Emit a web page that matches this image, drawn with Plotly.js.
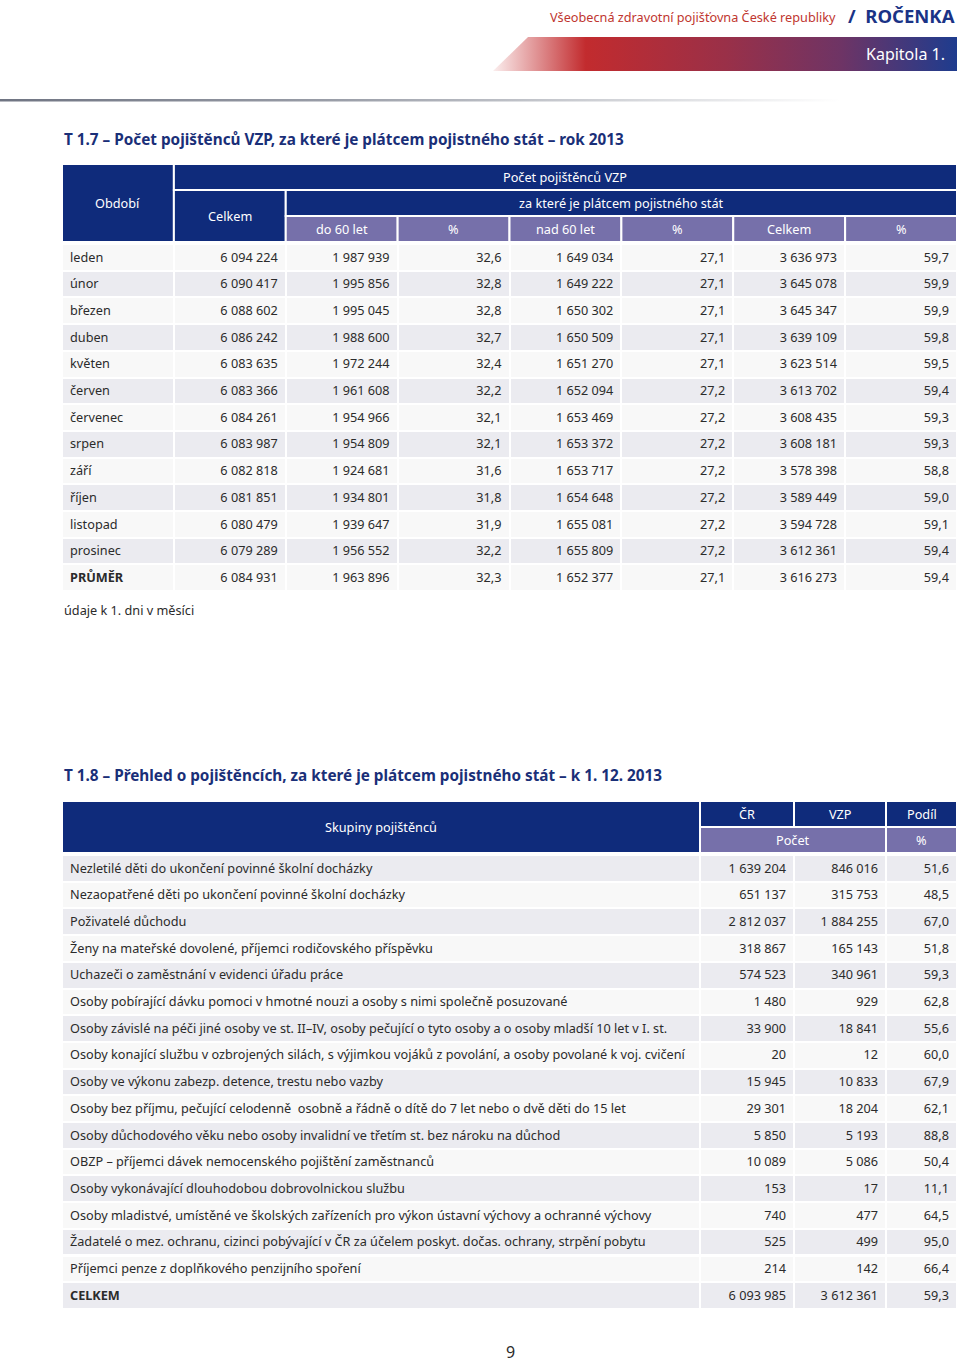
<!DOCTYPE html>
<html><head><meta charset="utf-8">
<script src="https://cdn.plot.ly/plotly-3.0.1.min.js"></script>
<style>html,body{margin:0;padding:0;background:#fff}#chart{width:960px;height:1364px}</style>
</head><body><div id="chart"></div>
<script>
// ---------- DATA: T 1.7 ----------
const months = ['leden','únor','březen','duben','květen','červen','červenec','srpen','září','říjen','listopad','prosinec','PRŮMĚR'];
const celkemVZP = [6094224,6090417,6088602,6086242,6083635,6083366,6084261,6083987,6082818,6081851,6080479,6079289,6084931];
const do60 = [1987939,1995856,1995045,1988600,1972244,1961608,1954966,1954809,1924681,1934801,1939647,1956552,1963896];
const do60Pct = [32.6,32.8,32.8,32.7,32.4,32.2,32.1,32.1,31.6,31.8,31.9,32.2,32.3];
const nad60 = [1649034,1649222,1650302,1650509,1651270,1652094,1653469,1653372,1653717,1654648,1655081,1655809,1652377];
const nad60Pct = [27.1,27.1,27.1,27.1,27.1,27.2,27.2,27.2,27.2,27.2,27.2,27.2,27.1];
const statCelkem = [3636973,3645078,3645347,3639109,3623514,3613702,3608435,3608181,3578398,3589449,3594728,3612361,3616273];
const statPct = [59.7,59.9,59.9,59.8,59.5,59.4,59.3,59.3,58.8,59.0,59.1,59.4,59.4];
const t1Sub = ['do 60 let','%','nad 60 let','%','Celkem','%'];

// ---------- DATA: T 1.8 ----------
const groups = [
 'Nezletilé děti do ukončení povinné školní docházky',
 'Nezaopatřené děti po ukončení povinné školní docházky',
 'Poživatelé důchodu',
 'Ženy na mateřské dovolené, příjemci rodičovského příspěvku',
 'Uchazeči o zaměstnání v evidenci úřadu práce',
 'Osoby pobírající dávku pomoci v hmotné nouzi a osoby s nimi společně posuzované',
 'Osoby závislé na péči jiné osoby ve st. II–IV, osoby pečující o tyto osoby a o osoby mladší 10 let v I. st.',
 'Osoby konající službu v ozbrojených silách, s výjimkou vojáků z povolání, a osoby povolané k voj. cvičení',
 'Osoby ve výkonu zabezp. detence, trestu nebo vazby',
 'Osoby bez příjmu, pečující celodenně  osobně a řádně o dítě do 7 let nebo o dvě děti do 15 let',
 'Osoby důchodového věku nebo osoby invalidní ve třetím st. bez nároku na důchod',
 'OBZP – příjemci dávek nemocenského pojištění zaměstnanců',
 'Osoby vykonávající dlouhodobou dobrovolnickou službu',
 'Osoby mladistvé, umístěné ve školských zařízeních pro výkon ústavní výchovy a ochranné výchovy',
 'Žadatelé o mez. ochranu, cizinci pobývající v ČR za účelem poskyt. dočas. ochrany, strpění pobytu',
 'Příjemci penze z doplňkového penzijního spoření',
 'CELKEM'
];
const pocetCR = [1639204,651137,2812037,318867,574523,1480,33900,20,15945,29301,5850,10089,153,740,525,214,6093985];
const pocetVZP = [846016,315753,1884255,165143,340961,929,18841,12,10833,18204,5193,5086,17,477,499,142,3612361];
const podil = [51.6,48.5,67.0,51.8,59.3,62.8,55.6,60.0,67.9,62.1,88.8,50.4,11.1,64.5,95.0,66.4,59.3];

// ---------- STYLE ----------
const W = 960, H = 1364;
const FONT = 'Noto Sans';
const FS = 12.7;
const TXT = '#2b2b2b';
const NAVY = '#0f2b7b', LAV = '#7670aa', ROW_A = '#f8f8f8', ROW_B = '#ebebf0';
const TITLE_C = '#1a2f78';
// HDR_EFF: space an empty table header actually takes above the first row
const L = 62, R = 957, ROWH = 26.7, HROW = 26, HDR_EFF = 14, SLACK = 40;
const CLEAR = 'rgba(0,0,0,0)';

const fmtInt = n => String(n).replace(/\B(?=(\d{3})+(?!\d))/g, '\u00a0');
const fmtPct = v => v.toFixed(1).replace('.', ',');

const shapes = [], annotations = [];
function rect(x0, x1, y0, y1, color) {
  shapes.push({type:'rect', xref:'x', yref:'y', x0, x1, y0, y1, fillcolor:color,
    line:{color:'white', width:2}, layer:'above'});
}
function label(x, y, text, o) {
  o = o || {};
  annotations.push({xref:'x', yref:'y', x, y, text, showarrow:false,
    xanchor:o.xanchor || 'center', yanchor:'middle',
    font:{family:FONT, size:o.size || FS, color:o.color || '#fff', weight:o.weight || 'normal'}});
}
function stripes(n, ncol, first, second) {
  const col = Array.from({length:n}, (_, i) => i % 2 === 0 ? first : second);
  return Array.from({length:ncol}, () => col.slice());
}
const blankHeader = {values:[], height:20, fill:{color:CLEAR}, line:{width:0, color:CLEAR}};

function makeTable(cols, widths, aligns, top, first, second) {
  const n = cols[0].length;
  const weights = cols.map((c, j) => j === 0 ? c.map((_, i) => i === n - 1 ? 'bold' : 'normal') : 'normal');
  return {
    type:'table',
    domain:{x:[L / W, R / W], y:[1 - (top + n * ROWH + SLACK) / H, 1 - (top - HDR_EFF) / H]},
    columnwidth:widths, header:blankHeader,
    cells:{values:cols, align:aligns, height:ROWH,
      fill:{color:stripes(n, cols.length, first, second)}, line:{color:'white', width:2},
      font:{family:FONT, size:FS, color:TXT, weight:weights}}
  };
}

// ---------- T 1.7 ----------
const c1 = 8, cw1 = (R - L) / c1;
const e1 = i => L + i * cw1;
const h1 = 164, body1 = h1 + 3 * HROW;
rect(e1(0), e1(1), h1, body1, NAVY);
label((e1(0) + e1(1)) / 2, (h1 + body1) / 2, 'Období');
rect(e1(1), e1(8), h1, h1 + HROW, NAVY);
label((e1(1) + e1(8)) / 2, h1 + HROW / 2, 'Počet pojištěnců VZP');
rect(e1(1), e1(2), h1 + HROW, body1, NAVY);
label((e1(1) + e1(2)) / 2, (h1 + HROW + body1) / 2, 'Celkem');
rect(e1(2), e1(8), h1 + HROW, h1 + 2 * HROW, NAVY);
label((e1(2) + e1(8)) / 2, h1 + 1.5 * HROW, 'za které je plátcem pojistného stát');
t1Sub.forEach((s, i) => {
  rect(e1(2 + i), e1(3 + i), h1 + 2 * HROW, body1, LAV);
  label((e1(2 + i) + e1(3 + i)) / 2, h1 + 2.5 * HROW, s);
});
const t1 = makeTable(
  [months, celkemVZP.map(fmtInt), do60.map(fmtInt), do60Pct.map(fmtPct),
   nad60.map(fmtInt), nad60Pct.map(fmtPct), statCelkem.map(fmtInt), statPct.map(fmtPct)],
  Array(c1).fill(1), ['left','right','right','right','right','right','right','right'],
  body1, ROW_A, ROW_B);

// ---------- T 1.8 ----------
const cw2 = [638, 94, 92, 71];
const e2 = i => L + cw2.slice(0, i).reduce((a, b) => a + b, 0);
const h2 = 801, body2 = h2 + 2 * HROW;
rect(e2(0), e2(1), h2, body2, NAVY);
label((e2(0) + e2(1)) / 2, (h2 + body2) / 2, 'Skupiny pojištěnců');
['ČR','VZP','Podíl'].forEach((s, i) => {
  rect(e2(1 + i), e2(2 + i), h2, h2 + HROW, NAVY);
  label((e2(1 + i) + e2(2 + i)) / 2, h2 + HROW / 2, s);
});
rect(e2(1), e2(3), h2 + HROW, body2, LAV);
label((e2(1) + e2(3)) / 2, h2 + 1.5 * HROW, 'Počet');
rect(e2(3), e2(4), h2 + HROW, body2, LAV);
label((e2(3) + e2(4)) / 2, h2 + 1.5 * HROW, '%');
const t2 = makeTable(
  [groups, pocetCR.map(fmtInt), pocetVZP.map(fmtInt), podil.map(fmtPct)],
  cw2, ['left','right','right','right'], body2, ROW_B, ROW_A);

// ---------- page decoration ----------
const band = {
  type:'scatter', mode:'lines', x:[493, 528, 957, 957, 493], y:[71, 37, 37, 71, 71],
  fill:'toself', line:{width:0}, hoverinfo:'skip',
  fillgradient:{type:'horizontal', colorscale:[[0,'#fbeeee'],[0.2,'#c22b2e'],[0.5,'#9a3048'],[0.75,'#6e3465'],[1,'#1e3c8e']]}
};
const rule = {
  type:'scatter', mode:'lines', x:[0, 840, 840, 0, 0], y:[99, 99, 101.5, 101.5, 99],
  fill:'toself', line:{width:0}, hoverinfo:'skip',
  fillgradient:{type:'horizontal', colorscale:[[0,'#6f7482'],[0.4,'#9a9ea8'],[1,'#ffffff']]}
};
label(838, 17, 'Všeobecná zdravotní pojišťovna České republiky', {xanchor:'right', size:12.7, color:'#c0362f'});
label(957, 15, '/  ROČENKA', {xanchor:'right', size:18.5, color:'#1a3386', weight:'bold'});
label(947, 54, 'Kapitola 1.', {xanchor:'right', size:16, color:'#fff'});
label(62, 139, 'T 1.7 – Počet pojištěnců VZP, za které je plátcem pojistného stát – rok 2013', {xanchor:'left', size:15.3, color:TITLE_C, weight:'bold'});
label(62, 610, 'údaje k 1. dni v měsíci', {xanchor:'left', size:FS, color:TXT});
label(62, 775, 'T 1.8 – Přehled o pojištěncích, za které je plátcem pojistného stát – k 1. 12. 2013', {xanchor:'left', size:15.3, color:TITLE_C, weight:'bold'});
label(510, 1352, '9', {size:16, color:TXT});

const layout = {
  width:W, height:H, margin:{l:0, r:0, t:0, b:0},
  paper_bgcolor:'#ffffff', plot_bgcolor:'#ffffff', showlegend:false,
  xaxis:{range:[0, W], visible:false, fixedrange:true},
  yaxis:{range:[H, 0], visible:false, fixedrange:true},
  shapes, annotations
};
Plotly.newPlot('chart', [band, rule, t1, t2], layout, {displayModeBar:false, staticPlot:true});
</script></body></html>
